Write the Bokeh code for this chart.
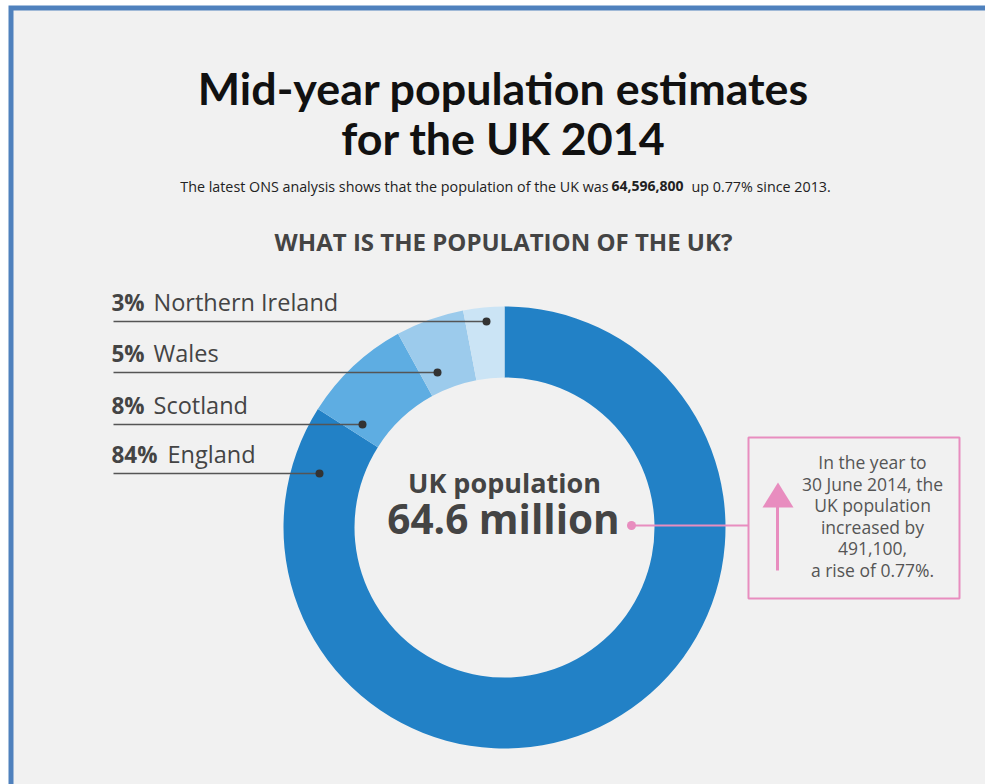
from bokeh.plotting import figure
from bokeh.models import Range1d, Label
from bokeh.embed import file_html
from bokeh.resources import INLINE
import math

# ---- data ----
categories = ["England", "Scotland", "Wales", "Northern Ireland"]
shares = [84, 8, 5, 3]
seg_colors = ["#2281c6", "#5eade2", "#9ccbec", "#cbe4f5"]
uk_population = "64,596,800"
growth_pct = "0.77%"
increase = "491,100"

W, H = 985, 784
def Y(py):
    return H - py

p = figure(width=W, height=H, output_backend="svg", toolbar_location=None,
           x_range=Range1d(0, W), y_range=Range1d(0, H), min_border=0,
           background_fill_color="white", border_fill_color="white")
p.axis.visible = False
p.grid.visible = False
p.outline_line_color = None

# frame
p.quad(left=[8], right=[W + 10], top=[Y(5)], bottom=[Y(H + 10)], fill_color="#4f81bd", line_color=None)
p.quad(left=[13], right=[W + 10], top=[Y(10)], bottom=[Y(H + 10)], fill_color="#f1f1f1", line_color=None)

FONT = "Open Sans"
def label(x, y, text, size, color="#444444", style="normal", align="left", font=FONT):
    # y is the desired baseline in pixels; compensate renderer offset
    p.add_layout(Label(x=x, y=Y(y - 0.43 * size), text=text, text_font=font, text_font_size=f"{size}px",
                       text_font_style=style, text_color=color, text_align=align,
                       text_baseline="alphabetic"))

# title
label(503, 107, "Mid-year population estimates", 44.8, color="#111111", style="bold", align="center", font="Lato")
label(503, 157, "for the UK 2014", 44.8, color="#111111", style="bold", align="center", font="Lato")

# subtitle
label(608, 192, "The latest ONS analysis shows that the population of the UK was", 14.3, color="#222222", align="right")
label(611, 192, uk_population, 14, color="#222222", style="bold")
label(691, 192, f"up  {growth_pct} since 2013.", 14.3, color="#222222")

# heading
label(503, 251, "WHAT IS THE POPULATION OF THE UK?", 24, color="#444444", style="bold", align="center")

# donut
cx, cy = 504, 527
total = sum(shares)
cum = 0
starts, ends = [], []
for s in shares:
    a0 = cum / total
    cum += s
    a1 = cum / total
    starts.append(math.radians(90 - a1 * 360))
    ends.append(math.radians(90 - a0 * 360))
p.annular_wedge(x=[cx] * len(shares), y=[Y(cy)] * len(shares), inner_radius=150, outer_radius=221,
                start_angle=starts, end_angle=ends, fill_color=seg_colors, line_color=None)

# labels with leader lines (top to bottom)
order = [3, 2, 1, 0]
line_y = [321, 372, 424, 473]
dot_x = [486, 437, 362, 319]
name_x = [153, 153, 153, 167]
for k, i in enumerate(order):
    ly = line_y[k]
    p.line(x=[113, dot_x[k]], y=[Y(ly), Y(ly)], line_color="#555555", line_width=1.3)
    p.scatter(x=[dot_x[k]], y=[Y(ly)], size=8, fill_color="#333333", line_color=None)
    label(111, ly - 9, f"{shares[i]}%", 22.5, color="#444444", style="bold")
    label(name_x[k], ly - 9, categories[i], 23.5, color="#444444")

# centre text
label(504, 494, "UK population", 27, style="bold", align="center")
label(503, 535, "64.6 million", 40.5, style="bold", align="center")

# pink callout
PINK = "#e88dbf"
p.line(x=[631, 748], y=[Y(525), Y(525)], line_color=PINK, line_width=2)
p.scatter(x=[631], y=[Y(525)], size=9, fill_color=PINK, line_color=None)
p.quad(left=[748], right=[959], top=[Y(437)], bottom=[Y(598)], fill_color=None, line_color=PINK, line_width=2)
p.line(x=[777, 777], y=[Y(505), Y(570)], line_color=PINK, line_width=3)
p.patch(x=[762, 793, 777.5], y=[Y(507), Y(507), Y(482)], fill_color=PINK, line_color=None)

box_lines = ["In the year to", "30 June 2014, the", "UK population", "increased by",
             f"{increase},", f"a rise of {growth_pct}."]
for j, t in enumerate(box_lines):
    label(872, 469 + j * 21.7, t, 17.5, color="#555555", align="center")

open("out.html", "w").write(file_html(p, INLINE))
